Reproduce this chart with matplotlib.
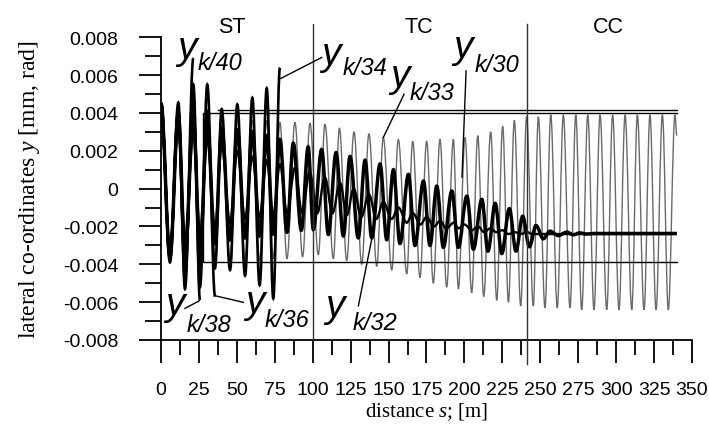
import matplotlib
matplotlib.use("Agg")
import matplotlib.pyplot as plt
from matplotlib.path import Path
from matplotlib.patches import PathPatch

plt.rcParams['font.family'] = ['Liberation Sans', 'DejaVu Sans']
plt.rcParams['axes.unicode_minus'] = False
plt.rcParams['mathtext.fontset'] = 'custom'
plt.rcParams['mathtext.rm'] = 'Liberation Serif'
plt.rcParams['mathtext.it'] = 'Liberation Serif:italic'

# ---- data: extrema of each run, distance s [m] vs lateral y ----
# growing runs in the ST section (end where they stop)
s_k40 = [0, 5.9, 11.4, 15.8, 21.3]
y_k40 = [0.0045, -0.0039, 0.00455, -0.0053, 0.0069]

s_k38 = [0, 5.9, 11.4, 15.8, 21.3, 25.7]
y_k38 = [0.0045, -0.0037, 0.0042, -0.0048, 0.0055, -0.0059]

s_k36 = [0, 5.9, 11.4, 15.8, 21.3, 25.7, 30.5, 35.6]
y_k36 = [0.0045, -0.0036, 0.0040, -0.0044, 0.0048, -0.0052, 0.0055, -0.0057]

s_k34 = [0, 5.9, 11.4, 15.8, 21.3, 25.7, 30.5, 35.6, 40, 45.5, 50.3, 55.4,
         60.2, 65, 69.7, 74, 78.4]
y_k34 = [0.0045, -0.0035, 0.0038, -0.0039, 0.0040, -0.0041, 0.0041, -0.0042,
         0.0042, -0.0043, 0.00445, -0.0046, 0.0048, -0.0051, 0.0053, -0.0058,
         0.0064]

# thin run that keeps oscillating
s_k30 = [0, 5.9, 11.4, 15.8, 21.3, 25.7, 30.5, 35.6, 40, 45.5, 50.3, 55.4,
         60.2, 65, 69.7, 74, 78.4, 83, 88.3, 93.3, 98.2, 103.7, 108.1, 113.6,
         117.6, 122.4, 127.2, 132.3, 137.1, 142.2, 146.5, 152.1, 156.4, 162,
         165.9, 170.7, 175.1, 179.5, 183.9, 188.3, 192.7, 196, 200.4, 204.8,
         208.8, 212.7, 217.3, 221.3, 225.2, 229, 232.9, 237.1, 241, 245.4,
         248.7, 253.1, 256.9, 261.2, 265.2, 269.6, 273.4, 277.3, 281.3, 285.4,
         289.4, 293.8, 297.7, 301.9, 305.9, 310.3, 314, 318.4, 322.3, 326.3,
         330.5, 334.4, 338.8, 340]
y_k30 = [0.0045, -0.0038, 0.0040, -0.0038, 0.0040, -0.0038, 0.0039, -0.0038,
         0.0038, -0.0038, 0.0037, -0.0038, 0.0036, -0.0038, 0.0036, -0.0037,
         0.0035, -0.0037, 0.0035, -0.0036, 0.00345, -0.0035, 0.0034, -0.0037,
         0.0032, -0.0038, 0.0030, -0.0040, 0.0029, -0.0041, 0.0027, -0.0043,
         0.0026, -0.0045, 0.0025, -0.0047, 0.0025, -0.0050, 0.0026, -0.0052,
         0.0026, -0.0053, 0.0027, -0.0055, 0.0028, -0.0057, 0.0030, -0.0059,
         0.0033, -0.0060, 0.0036, -0.0062, 0.0038, -0.0062, 0.0038, -0.0063,
         0.0039, -0.0063, 0.0039, -0.0063, 0.0039, -0.0064, 0.0039, -0.0064,
         0.0039, -0.0064, 0.0039, -0.0064, 0.0039, -0.0064, 0.0039, -0.0064,
         0.0039, -0.0064, 0.0039, -0.0064, 0.0039, 0.0028]

# thick run, damped, settles at about -0.0024
s_k32 = [0, 5.9, 11.4, 15.8, 21.3, 25.7, 30.5, 35.6, 40, 45.5, 50.3, 55.4,
         60.2, 65, 69.7, 74, 78.4, 83, 87.2, 92.5, 97, 100.4, 105.9, 110.3,
         115.4, 120.2, 124.6, 130, 134.5, 138.9, 144.4, 148.8, 153.2, 157.5,
         163.1, 167.4, 173, 177.3, 181.8, 186.1, 191.7, 196, 201.6, 205.9,
         211.5, 215.5, 220.3, 224.6, 229.6, 234, 238.4, 242.8, 247.2, 252,
         256.4, 261.9, 267.4, 271.8, 276, 280.6, 285, 340]
y_k32 = [0.0045, -0.0036, 0.0039, -0.0033, 0.0036, -0.0031, 0.0034, -0.0029,
         0.0032, -0.0027, 0.0031, -0.0026, 0.0030, -0.0025, 0.0028, -0.0024,
         0.0026, -0.0023, 0.0024, -0.0022, 0.0022, -0.00216, 0.00207, -0.00242,
         0.0019, -0.0025, 0.0017, -0.0026, 0.0015, -0.0026, 0.0013, -0.0027,
         0.0010, -0.0029, 0.00075, -0.0030, 0.0004, -0.0030, 0.00013, -0.0031,
         -0.00013, -0.0031, -0.0004, -0.0032, -0.00057, -0.0033, -0.00078,
         -0.00343, -0.00106, -0.0033, -0.00146, -0.00307, -0.00195, -0.00265,
         -0.00225, -0.00248, -0.0023, -0.00244, -0.00234, -0.0024, -0.00237,
         -0.00237]

# medium run, small wiggles drifting down to the same level
s_mid = [0, 5.9, 11.4, 15.8, 21.3, 25.7, 30.5, 35.6, 40, 45.5, 50.3, 55.4,
         60.2, 65, 69.7, 74, 78.4, 83, 88.3, 93, 98, 103, 108, 113, 118, 122.5,
         127, 132, 137, 142, 146.5, 152, 156.5, 162, 166, 171, 175, 180, 184,
         188, 193, 196, 200, 205, 209, 213, 217, 221, 225, 229, 233, 237, 241,
         245, 260, 340]
y_mid = [0.0045, -0.0033, 0.0035, -0.0028, 0.0030, -0.0024, 0.0026, -0.0021,
         0.0023, -0.0018, 0.0020, -0.0016, 0.0017, -0.0015, 0.0015, -0.0014,
         0.0013, -0.0013, 0.0011, -0.0013, 0.0009, -0.0013, 0.0006, -0.0013,
         0.0003, -0.0014, 0.0000, -0.0015, -0.0003, -0.0016, -0.0007, -0.0016,
         -0.0010, -0.0018, -0.0013, -0.0019, -0.0015, -0.0020, -0.0017,
         -0.0021, -0.0018, -0.0021, -0.0019, -0.0022, -0.0020, -0.0023,
         -0.0021, -0.0023, -0.0022, -0.0024, -0.0023, -0.0024, -0.0023,
         -0.0024, -0.0024, -0.0024]

# flange limits and section borders
upper_s = [340, 28, 28, 340]
upper_y = [0.00402, 0.00402, -0.00389, -0.00389]
upper2_s = [37.6, 340]
upper2_y = [0.00415, 0.00415]
borders = [100, 241]
sections = ['ST', 'TC', 'CC']
section_s = [46.8, 170, 294.7]

x_ticks = list(range(0, 351, 25))
y_ticks = [-0.008, -0.006, -0.004, -0.002, 0, 0.002, 0.004, 0.006, 0.008]
y_labels = ['-0.008', '-0.006', '-0.004', '-0.002', '0', '0.002', '0.004',
            '0.006', '0.008']

# curve labels: (subscript, y position, subscript position, leader line)
labels = [
    ('k/40', (10.5, 0.00693), (24.4, 0.00631), None),
    ('k/34', (105.9, 0.00657), (120.0, 0.00605), [(105.9, 78.9), (0.00693, 0.00582)]),
    ('k/33', (151.0, 0.00543), (164.1, 0.00473), [(160.2, 146.5), (0.00499, 0.0027)]),
    ('k/30', (192.5, 0.00694), (207.0, 0.00622), [(201.1, 198.4), (0.00622, 0.00061)]),
    ('k/38', (2.6, -0.00663), (16.9, -0.00751), [(15.8, 25.2), (-0.00633, -0.00593)]),
    ('k/36', (55.4, -0.00652), (68.6, -0.00724), [(54.3, 35.6), (-0.00601, -0.00566)]),
    ('k/32', (108.1, -0.00672), (126.6, -0.00742), [(130.1, 139.6), (-0.00619, -0.0024)]),
]


def wave(ax, s, y, **kw):
    # join the extrema with flat-tangent cubic pieces so the run reads as a wave
    verts = [(s[0], y[0])]
    codes = [Path.MOVETO]
    for i in range(1, len(s)):
        d = 0.36 * (s[i] - s[i - 1])
        verts += [(s[i - 1] + d, y[i - 1]), (s[i] - d, y[i]), (s[i], y[i])]
        codes += [Path.CURVE4] * 3
    ax.add_patch(PathPatch(Path(verts, codes), facecolor='none', **kw))


fig = plt.figure(figsize=(7.09, 4.35), dpi=100)
ax = fig.add_axes([0.2271, 0.2161, 0.7489, 0.7264])

wave(ax, s_k30, y_k30, edgecolor='#6a6a6a', lw=1.0, zorder=2)
wave(ax, s_mid, y_mid, edgecolor='black', lw=1.7, zorder=3)
wave(ax, s_k32, y_k32, edgecolor='black', lw=2.5, zorder=3)
for s, y in [(s_k34, y_k34), (s_k36, y_k36), (s_k38, y_k38), (s_k40, y_k40)]:
    wave(ax, s, y, edgecolor='black', lw=1.9, zorder=3)

ax.plot(upper_s, upper_y, color='black', lw=1.0, zorder=4)
ax.plot(upper2_s, upper2_y, color='black', lw=1.0, zorder=4)
ax.plot([borders[0]] * 2, [-0.008, 0.0087], color='#333333', lw=1.0, zorder=4)
ax.plot([borders[1]] * 2, [-0.00927, 0.0087], color='#333333', lw=1.0,
        zorder=4, clip_on=False)

for name, s in zip(sections, section_s):
    ax.text(s, 0.00826, name, fontsize=15.5, ha='center', va='baseline')

for sub, ypos, subpos, lead in labels:
    ax.text(ypos[0], ypos[1], 'y', fontsize=28, style='italic',
            ha='left', va='baseline', zorder=5)
    ax.text(subpos[0], subpos[1], sub, fontsize=17, style='italic',
            ha='left', va='baseline', zorder=5)
    if lead is not None:
        ax.plot(lead[0], lead[1], color='black', lw=1.0, zorder=5)

ax.set_xlim(0, 350)
ax.set_ylim(-0.008, 0.0087)
ax.spines['top'].set_visible(False)
ax.spines['right'].set_visible(False)
ax.spines['left'].set_bounds(-0.008, 0.008)
ax.spines['bottom'].set_bounds(0, 350)
for sp in ['left', 'bottom']:
    ax.spines[sp].set_linewidth(1.3)

ax.set_xticks(x_ticks)
ax.set_xticks([t + 12.5 for t in x_ticks[:-1]], minor=True)
ax.set_yticks(y_ticks, labels=y_labels)
ax.set_yticks([t + 0.001 for t in y_ticks[:-1]], minor=True)
ax.tick_params(axis='x', which='major', length=16.5, width=1.3, pad=13,
               labelsize=14)
ax.tick_params(axis='x', which='minor', length=10.8, width=1.3)
ax.tick_params(axis='y', which='major', length=15.8, width=1.3, pad=15,
               labelsize=14)
ax.tick_params(axis='y', which='minor', length=11.5, width=1.3)

ax.set_xlabel('distance $s$; [m]', fontsize=15, family='Liberation Serif')
ax.set_ylabel('lateral co-ordinates $y$ [mm, rad]', fontsize=17,
              family='Liberation Serif')
ax.xaxis.set_label_coords(0.5, -0.19)
ax.yaxis.set_label_coords(-0.225, 0.478)

fig.savefig('out.png', dpi=100)
